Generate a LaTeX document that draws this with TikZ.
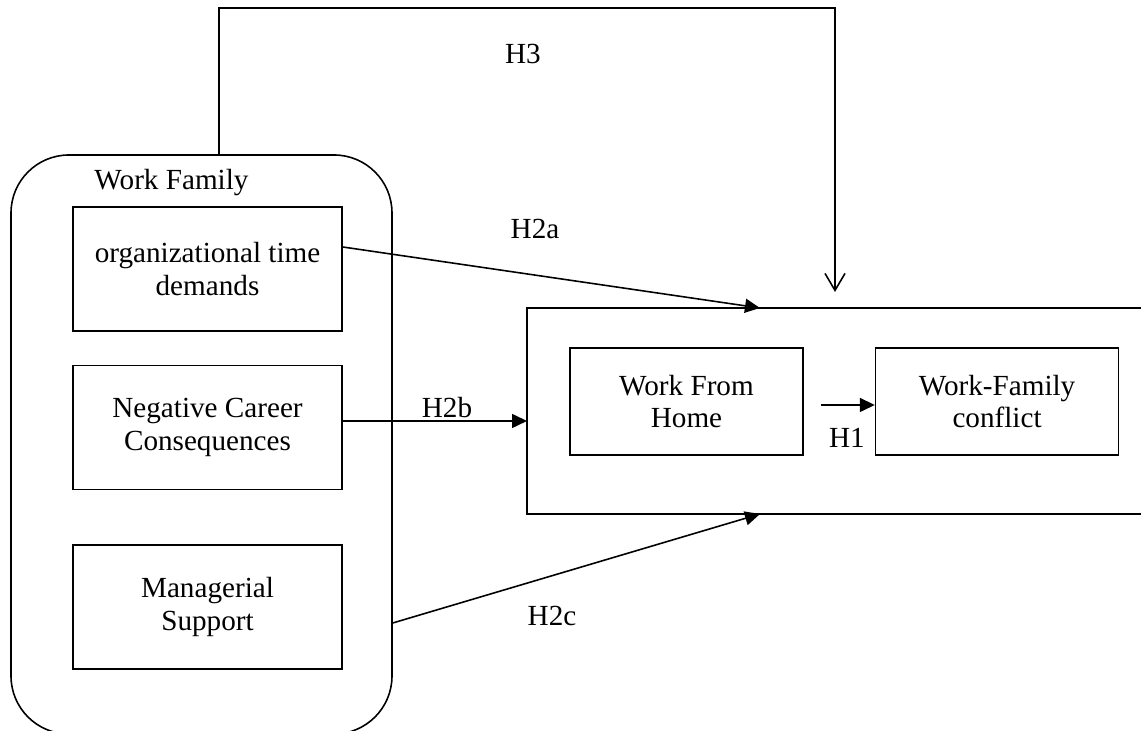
\documentclass[tikz,border=0pt]{standalone}
\usepackage{fontspec}
\setmainfont{Liberation Serif}
\usepackage{tikz}
\usetikzlibrary{arrows.meta, positioning, calc}

\begin{document}
\begin{tikzpicture}[line width=0.9pt, node distance=0.66cm,
  box/.style={draw, minimum width=5.38cm, minimum height=2.48cm,
              align=center, font=\fontsize{16.6}{18.4}\selectfont},
  lbl/.style={font=\fontsize{16.6}{18.4}\selectfont},
  hyp/.style={-{Triangle[length=0.30cm, width=0.28cm]}}]

  \useasboundingbox (0,0) rectangle (22.82,14.62);

  % left group
  \node[draw, rounded corners=1.16cm, minimum width=7.62cm,
        minimum height=11.58cm] (family) at (4.03,5.73) {};
  \node[lbl] (famlabel) at (3.43,10.96) {Work Family};

  \node[box] (time) at (4.15,9.24) {organizational time\\demands};
  \node[box, below=of time] (neg) {Negative Career\\Consequences};
  \node[box, below=1.08cm of neg] (mgr) {Managerial\\Support};

  % right group (open to the right)
  \coordinate (modne) at (22.82,8.46);
  \coordinate (modnw) at (10.54,8.46);
  \coordinate (modsw) at (10.54,4.34);
  \coordinate (modse) at (22.82,4.34);
  \coordinate (modtop) at (15.20,8.46);
  \coordinate (modbot) at (15.20,4.34);
  \coordinate (modwest) at (10.54,6.20);
  \draw (modne) -- (modnw) -- (modsw) -- (modse);

  \node[box, minimum width=4.66cm, minimum height=2.14cm] (wfh) at (13.73,6.59) {Work From\\Home};
  \node[box, minimum width=4.86cm, minimum height=2.14cm, right=1.42cm of wfh] (wfc) {Work-Family\\conflict};

  % hypotheses
  \coordinate (h3end) at (16.70,8.78);
  \draw[-{Straight Barb[length=0.34cm, width=0.40cm]}]
    ([xshift=0.35cm]family.north) -- ++(0,2.92) -| (h3end);
  \draw[hyp] ([yshift=0.44cm]time.east) -- (modtop);
  \draw[hyp] (modwest -| neg.east) -- (modwest);
  \draw[hyp] ([yshift=-3.57cm]family.east) -- (modbot);
  \draw[hyp] ([shift={(0.34cm,-0.07cm)}]wfh.east) -- ([yshift=-0.07cm]wfc.west);

  \node[lbl] (h3) at (10.46,13.54) {H3};
  \node[lbl] (h2a) at (10.70,10.04) {H2a};
  \node[lbl] (h2b) at (8.94,6.46) {H2b};
  \node[lbl] (h2c) at (11.04,2.30) {H2c};
  \node[lbl] (h1) at (16.94,5.86) {H1};
\end{tikzpicture}
\end{document}
